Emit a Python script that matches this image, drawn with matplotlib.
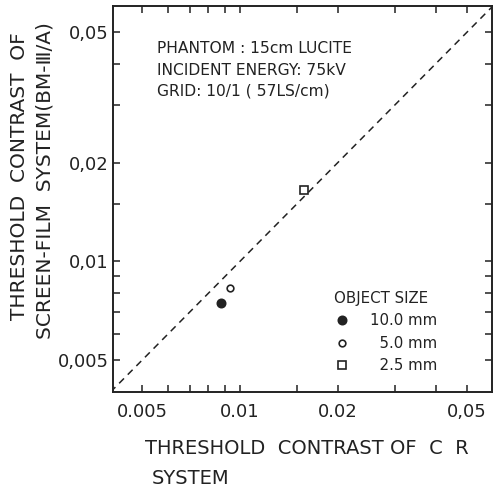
import matplotlib
matplotlib.use("Agg")
import matplotlib.pyplot as plt
from matplotlib.ticker import FixedLocator, NullFormatter
import numpy as np

# data
cr_contrast = [0.00876, 0.00933, 0.0157]   # CR system
sf_contrast = [0.00748, 0.00827, 0.01655]  # screen-film system
size_labels = ["10.0 mm", "\u20075.0 mm", "\u20072.5 mm"]
markers = ["o", "o", "s"]
facecolors = ["#222222", "white", "white"]
marker_sizes = [6, 4.8, 6]

major_ticks = [0.005, 0.01, 0.02, 0.05]
minor_ticks = [0.006, 0.007, 0.008, 0.009, 0.015, 0.03, 0.04]
x_ticklabels = ["0.005", "0.01", "0.02", "0,05"]
y_ticklabels = ["0,005", "0,01", "0,02", "0,05"]
xlim = (0.00407, 0.0594)
ylim = (0.0040, 0.0600)

ink = "#222222"
plt.rcParams["font.family"] = ["DejaVu Sans"]

fig = plt.figure(figsize=(4.93, 4.87), dpi=100)
ax = fig.add_axes([113 / 493, 1 - 392 / 487, (491.5 - 113) / 493, (392 - 6) / 487])
ax.set_xscale("log")
ax.set_yscale("log")
ax.set_xlim(*xlim)
ax.set_ylim(*ylim)

# line of identity
diag = np.array([0.004, 0.06])
ax.plot(diag, diag, ls=(0, (4.5, 3.5)), color=ink, lw=1.1)

handles = []
for x, y, lab, m, fc, ms in zip(cr_contrast, sf_contrast, size_labels,
                                markers, facecolors, marker_sizes):
    h, = ax.plot([x], [y], ls="none", marker=m, ms=ms, mfc=fc, mec=ink,
                 mew=1.2, label=lab)
    handles.append(h)

for axis, labels in ((ax.xaxis, x_ticklabels), (ax.yaxis, y_ticklabels)):
    axis.set_major_locator(FixedLocator(major_ticks))
    axis.set_minor_locator(FixedLocator(minor_ticks))
    axis.set_major_formatter(plt.FixedFormatter(labels))
    axis.set_minor_formatter(NullFormatter())

ax.tick_params(which="both", direction="in", top=True, right=True,
               length=5, width=1.1, color=ink, labelcolor=ink, labelsize=13)
ax.tick_params(axis="x", pad=8)
ax.tick_params(axis="y", pad=3)
for sp in ax.spines.values():
    sp.set_linewidth(1.4)
    sp.set_color(ink)

info = ["PHANTOM : 15cm LUCITE", "INCIDENT ENERGY: 75kV", "GRID: 10/1 ( 57LS/cm)"]
for txt, yy in zip(info, [0.891, 0.834, 0.780]):
    ax.text(0.116, yy, txt, transform=ax.transAxes, fontsize=11.2,
            va="center", ha="left", color=ink)

leg = ax.legend(handles=handles, loc="upper left", bbox_to_anchor=(0.585, 0.262),
                title="OBJECT SIZE", alignment="left", frameon=False,
                fontsize=10.8, title_fontsize=10.8, handlelength=1.0,
                handletextpad=1.4, labelspacing=0.5, borderpad=0,
                borderaxespad=0)
for t in leg.get_texts():
    t.set_color(ink)
leg.get_title().set_color(ink)

fig.text(145 / 493, 1 - 448 / 487, "THRESHOLD  CONTRAST OF  C  R", fontsize=14,
         ha="left", va="center", color=ink)
fig.text(152 / 493, 1 - 478 / 487, "SYSTEM", fontsize=14,
         ha="left", va="center", color=ink)
fig.text(20 / 493, 1 - 176 / 487, "THRESHOLD  CONTRAST  OF", fontsize=14.5,
         rotation=90, ha="center", va="center", color=ink)
fig.text(45 / 493, 1 - 181 / 487, "SCREEN-FILM  SYSTEM(BM-\u2162/A)", fontsize=14.5,
         rotation=90, ha="center", va="center", color=ink)

fig.savefig("out.png", dpi=100)
